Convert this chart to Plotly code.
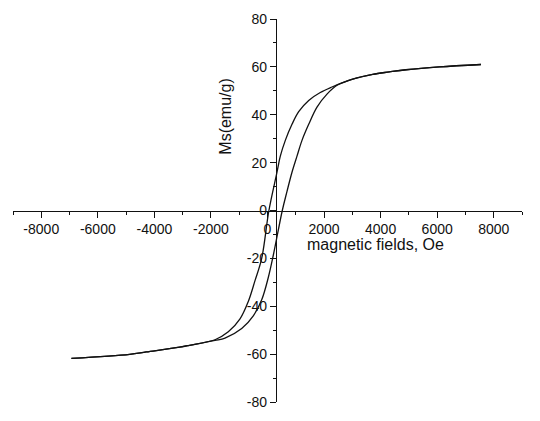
import plotly.graph_objects as go

# Descending branch (from +H max to -H max)
desc_H = [7548, 6076, 4900, 4309, 3720, 3014, 2634, 2281, 1867, 1457, 1103, 866, 630,
          453, 336, 50, -205, -442, -679, -972, -1386, -1856, -2755, -3108, -4285,
          -4874, -6934]
desc_M = [61.0, 60.0, 58.8, 57.9, 56.9, 54.9, 53.3, 51.6, 49.3, 46.0, 41.3, 36.0, 29.3,
          22.7, 16.0, 0.0, -20.0, -29.3, -38.0, -45.3, -50.7, -54.0, -56.3, -57.1, -59.1,
          -60.1, -61.8]

# Ascending branch (from -H max to +H max)
asc_H = [-6934, -4874, -4285, -3108, -2755, -1856, -1503, -912, -502, -205, 28, 205,
         523, 690, 866, 1043, 1220, 1457, 1750, 2104, 2458, 3014, 3720, 4309, 4900,
         6076, 7548]
asc_M = [-61.8, -60.1, -59.1, -57.1, -56.3, -54.3, -53.3, -49.3, -44.0, -37.3, -28.0, -18.7,
         0.0, 8.0, 16.0, 22.7, 29.3, 36.0, 43.2, 48.6, 52.3, 54.9, 56.9, 57.9, 58.8,
         60.0, 61.0]

x_ticks = [-8000, -6000, -4000, -2000, 0, 2000, 4000, 6000, 8000]
y_ticks = [-80, -60, -40, -20, 0, 20, 40, 60, 80]

fig = go.Figure()
for H, M in [(desc_H, desc_M), (asc_H, asc_M)]:
    fig.add_trace(go.Scatter(x=H, y=M, mode="lines",
                             line=dict(color="#111111", width=1.3, shape="spline", smoothing=1.0),
                             hoverinfo="skip", showlegend=False))

font = dict(family="Liberation Sans, Arial, sans-serif", size=14, color="#111111")
title_font = dict(family="Liberation Sans, Arial, sans-serif", size=16, color="#111111")

fig.update_layout(
    width=540, height=421,
    margin=dict(l=13, r=18, t=11, b=14),
    paper_bgcolor="white", plot_bgcolor="white",
    font=font,
    xaxis=dict(range=[-9000, 9000], anchor="free", position=0.5,
               showline=True, linecolor="#111111", linewidth=1.3,
               showgrid=False, zeroline=False,
               tickvals=x_ticks, ticktext=[str(v) for v in x_ticks],
               ticks="outside", ticklen=6, tickwidth=1.2, tickcolor="#111111",
               minor=dict(ticks="outside", ticklen=3, dtick=1000, tick0=0,
                          tickcolor="#111111", tickwidth=1, showgrid=False),
               tickfont=font),
    yaxis=dict(range=[-80, 80], anchor="free", position=(300 + 9000) / 18000,
               showline=True, linecolor="#111111", linewidth=1.3,
               showgrid=False, zeroline=False,
               tickvals=y_ticks, ticktext=[str(v) for v in y_ticks],
               ticks="outside", ticklen=6, tickwidth=1.2, tickcolor="#111111",
               minor=dict(ticks="outside", ticklen=3, dtick=10, tick0=0,
                          tickcolor="#111111", tickwidth=1, showgrid=False),
               tickfont=font),
    annotations=[
        dict(text="Ms(emu/g)", xref="paper", yref="paper", x=(226 - 13) / 509, y=(407 - 112) / 396,
             xanchor="center", yanchor="middle",
             textangle=-90, showarrow=False, font=title_font),
        dict(text="magnetic fields, Oe", xref="paper", yref="paper", x=(375 - 13) / 509, y=(407 - 244) / 396,
             xanchor="center", yanchor="middle",
             showarrow=False, font=title_font),
    ],
)

fig.write_html("out.html")
